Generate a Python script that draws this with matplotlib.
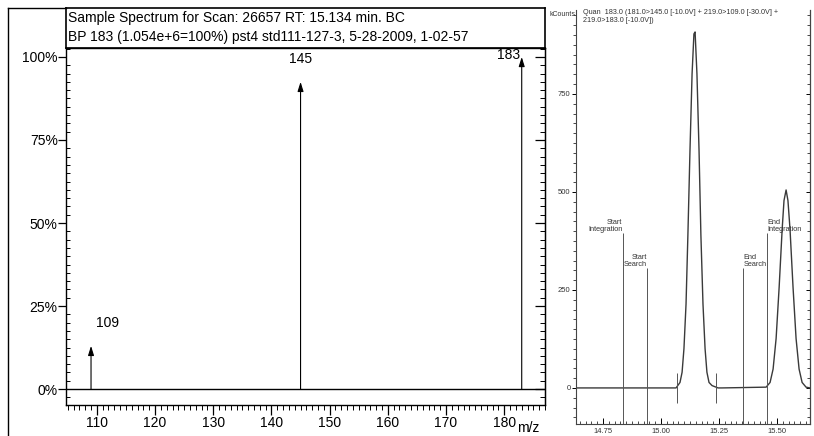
import matplotlib.pyplot as plt
from matplotlib.lines import Line2D
from matplotlib.ticker import MultipleLocator, FuncFormatter

plt.rcParams['font.family'] = ['Liberation Sans', 'DejaVu Sans']

# --- mass spectrum (left) ---
mz = [109, 145, 183]
rel_abund = [13, 92.5, 100]
peak_labels = ['109', '145', '183']
spec_title = ['Sample Spectrum for Scan: 26657 RT: 15.134 min. BC',
              'BP 183 (1.054e+6=100%) pst4 std111-127-3, 5-28-2009, 1-02-57']
pct_ticks = [0, 25, 50, 75, 100]
mz_ticks = [110, 120, 130, 140, 150, 160, 170, 180]

# --- chromatogram (right) ---
rt = [14.634, 14.909, 15.065, 15.082, 15.091, 15.099, 15.108, 15.116, 15.125,
      15.134, 15.142, 15.147, 15.155, 15.164, 15.172, 15.181, 15.190, 15.198,
      15.207, 15.220, 15.233, 15.246, 15.263, 15.453, 15.470, 15.483, 15.496,
      15.509, 15.522, 15.530, 15.539, 15.547, 15.556, 15.569, 15.582, 15.595,
      15.608, 15.625, 15.642]
counts = [0, 0, 0, 14, 40, 100, 214, 390, 606,
          801, 903, 908, 801, 606, 390, 214, 100, 40,
          14, 6, 3, 0, 0, 2, 14, 48, 126,
          256, 404, 478, 505, 478, 404, 256, 126, 48,
          14, 2, 0]
marker_names = ['Start\nIntegration', 'Start\nSearch', 'End\nSearch', 'End\nIntegration']
marker_rt = [14.836, 14.940, 15.353, 15.457]
marker_top = [395, 306, 306, 395]
bound_rt = [15.069, 15.237]
rt_ticks = [14.75, 15.00, 15.25, 15.50]
count_ticks = [0, 250, 500, 750]
quan_title = 'Quan  183.0 (181.0>145.0 [-10.0V] + 219.0>109.0 [-30.0V] +\n219.0>183.0 [-10.0V])'

W, H = 814, 436


def frac(x0, y0, x1, y1):
    # pixel box (top-left origin) -> figure rect
    return [x0 / W, 1 - y1 / H, (x1 - x0) / W, (y1 - y0) / H]


fig = plt.figure(figsize=(W / 100, H / 100), dpi=100)

# outer frame lines
fig.add_artist(Line2D([8 / W, 8 / W], [0, 1 - 8 / H], transform=fig.transFigure, color='black', lw=1))
fig.add_artist(Line2D([8 / W, 66 / W], [1 - 8 / H, 1 - 8 / H], transform=fig.transFigure, color='black', lw=1))

# title box
tax = fig.add_axes(frac(66, 8, 545, 48))
tax.set_xticks([])
tax.set_yticks([])
for s in tax.spines.values():
    s.set_linewidth(1.2)
tax.text(0.005, 0.76, spec_title[0], fontsize=10, va='center', ha='left', transform=tax.transAxes)
tax.text(0.005, 0.27, spec_title[1], fontsize=10, va='center', ha='left', transform=tax.transAxes)

ax = fig.add_axes(frac(66, 48, 545, 405))
ax.set_xlim(104.7, 187.0)
ax.set_ylim(-4.8, 102.7)
ax.axhline(0, color='black', lw=1.0)
for m, a in zip(mz, rel_abund):
    ax.annotate('', xy=(m, a), xytext=(m, 0),
                arrowprops=dict(arrowstyle='-|>,head_length=0.8,head_width=0.25',
                                color='black', lw=0.8, shrinkA=0, shrinkB=0, mutation_scale=7))
label_xy = [(111.8, 20), (145, 99.5), (180.8, 100.6)]
for lab, (lx, ly) in zip(peak_labels, label_xy):
    ax.text(lx, ly, lab, fontsize=10, ha='center', va='center')

ax.set_xticks(mz_ticks)
ax.xaxis.set_minor_locator(MultipleLocator(1))
ax.set_yticks(pct_ticks)
ax.yaxis.set_major_formatter(FuncFormatter(lambda v, p: '%d%%' % v))
ax.yaxis.set_minor_locator(MultipleLocator(2.5))
ax.tick_params(axis='x', which='major', direction='out', length=7, width=0.9, labelsize=10, pad=1)
ax.tick_params(axis='x', which='minor', direction='out', length=3.5, width=0.7)
ax.tick_params(axis='y', which='major', direction='out', length=6, width=0.9, labelsize=10, pad=0)
ax.tick_params(axis='y', which='minor', direction='in', length=3, width=0.7)
for s in ax.spines.values():
    s.set_linewidth(1.0)
sec = ax.secondary_yaxis('right')
sec.set_yticks(pct_ticks)
sec.yaxis.set_minor_locator(MultipleLocator(2.5))
sec.tick_params(which='major', direction='in', length=7, width=0.9, labelright=False)
sec.tick_params(which='minor', direction='in', length=3.5, width=0.7)
ax.text(0.965, -0.065, 'm/z', transform=ax.transAxes, fontsize=10, ha='center', va='center')

# --- right panel ---
ax2 = fig.add_axes(frac(576, 10, 810, 424))
ax2.set_xlim(14.634, 15.642)
ax2.set_ylim(-92, 964)
ax2.plot(rt, counts, color='#3a3a3a', lw=1.0)
for name, t, top in zip(marker_names, marker_rt, marker_top):
    ax2.vlines(t, -92, top, color='#555555', lw=0.7)
    if name.startswith('Start'):
        ax2.text(t - 0.002, top, name, fontsize=5.3, ha='right', va='bottom', color='#333333', linespacing=1.0)
    else:
        ax2.text(t + 0.002, top, name, fontsize=5.3, ha='left', va='bottom', color='#333333', linespacing=1.0)
ax2.vlines(bound_rt, -38, 38, color='#555555', lw=0.7)

ax2.set_xticks(rt_ticks)
ax2.set_xticklabels(['%.2f' % t for t in rt_ticks])
ax2.xaxis.set_minor_locator(MultipleLocator(0.025))
ax2.set_yticks(count_ticks)
ax2.yaxis.set_minor_locator(MultipleLocator(25))
ax2.tick_params(axis='x', which='major', direction='in', length=4, width=0.7, labelsize=5.5, pad=3, labelcolor='#333333')
ax2.tick_params(axis='x', which='minor', direction='in', length=2, width=0.5)
ax2.tick_params(axis='y', which='major', direction='out', length=3, width=0.7, labelsize=5.5, pad=1, labelcolor='#333333')
ax2.tick_params(axis='y', which='minor', direction='out', length=2, width=0.5)
ax2.spines['top'].set_visible(False)
for s in ['left', 'right', 'bottom']:
    ax2.spines[s].set_linewidth(0.8)
    ax2.spines[s].set_color('#444444')
sec2 = ax2.secondary_yaxis('right')
sec2.set_yticks(count_ticks)
sec2.yaxis.set_minor_locator(MultipleLocator(25))
sec2.tick_params(which='major', direction='in', length=3, width=0.7, labelright=False)
sec2.tick_params(which='minor', direction='in', length=2, width=0.5)

fig.text(575 / W, 1 - 15 / H, 'kCounts', fontsize=5, ha='right', va='center', color='#333333')
fig.text(583 / W, 1 - 9 / H, quan_title, fontsize=5.2, ha='left', va='top', color='#333333', linespacing=1.1)

fig.savefig('out.png', dpi=100)
